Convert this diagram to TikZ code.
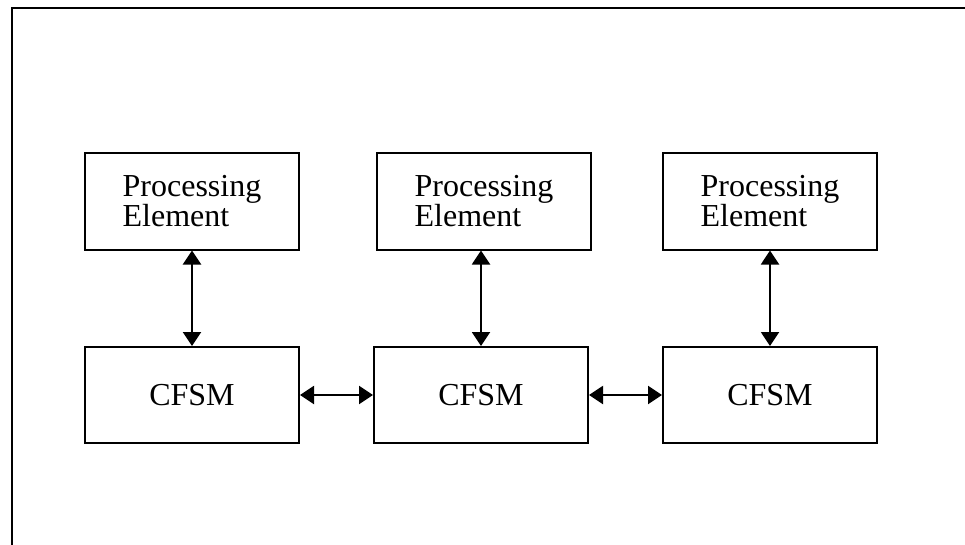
\documentclass[tikz,border=0pt]{standalone}
\usepackage{fontspec}
\setmainfont{Liberation Serif}
\usetikzlibrary{arrows.meta}
\begin{document}
\begin{tikzpicture}[x=1pt,y=-1pt,
  blockbox/.style={draw, line width=2pt, minimum width=214pt, minimum height=96pt, inner sep=0pt, font=\fontsize{32}{30}\selectfont},
  pebox/.style={blockbox, align=left},
  link/.style={line width=2pt, {Triangle[width=18pt,length=14pt]}-{Triangle[width=18pt,length=14pt]}}]
\useasboundingbox (0,0) rectangle (965,545);
\coordinate (fa) at (12,545);
\coordinate (fb) at (12,8);
\coordinate (fc) at (965,8);
\draw[line width=2.6pt] (fa) -- (fb) -- (fc);
\node[pebox] (pe1) at (192,201.5) {Processing\\Element};
\node[pebox] (pe2) at (484,201.5) {Processing\\Element};
\node[pebox] (pe3) at (770,201.5) {Processing\\Element};
\node[blockbox] (c1) at (192,395) {CFSM};
\node[blockbox] (c2) at (481,395) {CFSM};
\node[blockbox] (c3) at (770,395) {CFSM};
\draw[link] (pe1) -- (c1);
\draw[link] (pe2.south -| c2) -- (c2);
\draw[link] (pe3) -- (c3);
\draw[link] (c1) -- (c2);
\draw[link] (c2) -- (c3);
\end{tikzpicture}
\end{document}
